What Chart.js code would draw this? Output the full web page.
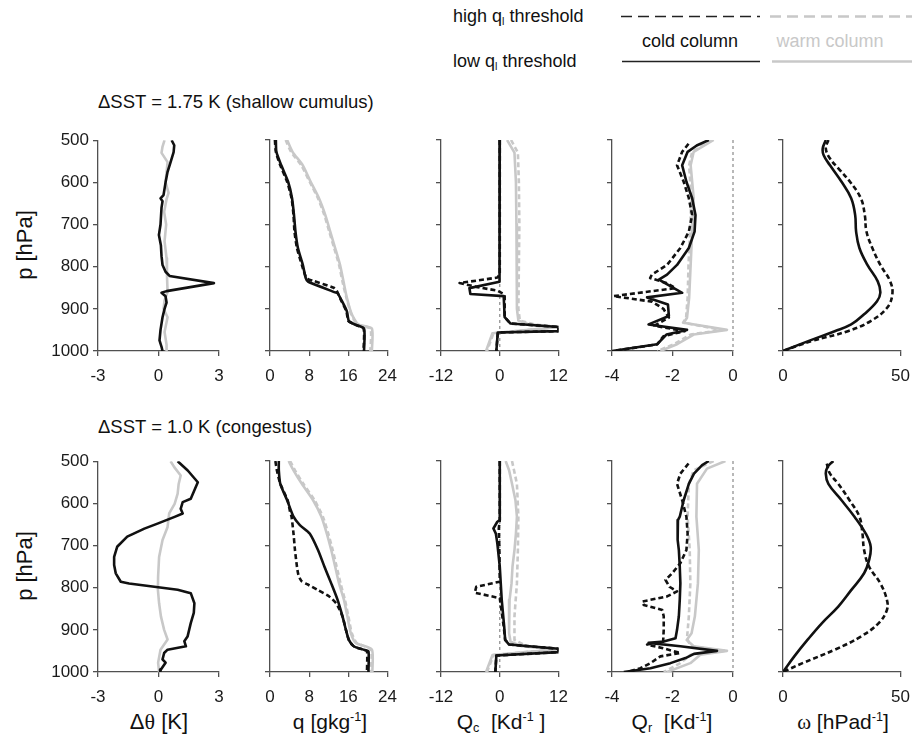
<!DOCTYPE html>
<html><head><meta charset="utf-8">
<script src="https://cdn.jsdelivr.net/npm/chart.js@4.4.1/dist/chart.umd.min.js"></script>
<style>
html,body{margin:0;padding:0;background:#fff;}
body{width:921px;height:747px;position:relative;overflow:hidden;font-family:"Liberation Sans",Arial,Helvetica,sans-serif;color:#111;}
canvas.pn{position:absolute;}
.t{position:absolute;white-space:nowrap;line-height:1;}
.t sub{font-size:60%;vertical-align:-0.25em;}
.t sup{font-size:60%;vertical-align:0.6em;}
.c{transform:translateX(-50%);}
.yl{transform:translate(-50%,-50%) rotate(-90deg);}
</style></head><body>

<svg style="position:absolute;left:0;top:0" width="921" height="75">
<line x1="621" y1="16.5" x2="760" y2="16.5" stroke="#222" stroke-width="1.4" stroke-dasharray="11,6"/>
<line x1="770" y1="16.5" x2="912" y2="16.5" stroke="#c8c8c8" stroke-width="2.5" stroke-dasharray="11,6"/>
<line x1="622" y1="61.5" x2="760" y2="61.5" stroke="#222" stroke-width="1.6"/>
<line x1="772" y1="61.5" x2="912" y2="61.5" stroke="#c8c8c8" stroke-width="2.5"/>
</svg>
<div class="t" style="left:453px;top:7px;font-size:18px">high q<sub>l</sub> threshold</div>
<div class="t" style="left:453px;top:52px;font-size:18px">low q<sub>l</sub> threshold</div>
<div class="t c" style="left:690px;top:32px;font-size:18px">cold column</div>
<div class="t c" style="left:830px;top:32px;font-size:18px;color:#c8c8c8">warm column</div>

<div class="t" style="left:98px;top:93px;font-size:18.5px">ΔSST = 1.75 K (shallow cumulus)</div>
<div class="t" style="left:98px;top:418px;font-size:18.5px">ΔSST = 1.0 K (congestus)</div>

<div class="t yl" style="left:25px;top:245px;font-size:22px">p [hPa]</div>
<div class="t yl" style="left:25px;top:566px;font-size:22px">p [hPa]</div>

<div class="t c" style="left:159px;top:711px;font-size:22px">Δ<span style="font-family:'Liberation Serif',serif">θ</span> [K]</div>
<div class="t c" style="left:330px;top:711px;font-size:21px">q [gkg<sup>-1</sup>]</div>
<div class="t c" style="left:501px;top:711px;font-size:21px">Q<sub>c</sub> &nbsp;[Kd<sup>-1</sup> ]</div>
<div class="t c" style="left:672px;top:711px;font-size:21px">Q<sub>r</sub> &nbsp;[Kd<sup>-1</sup>]</div>
<div class="t c" style="left:843px;top:711px;font-size:21px"><span style="font-family:'Liberation Serif',serif">ω</span> [hPad<sup>-1</sup>]</div>

<script>
// ---------- tick labels ----------
const pTicks = [500, 600, 700, 800, 900, 1000];
const dthTicks = [-3, 0, 3];
const qTicks = [0, 8, 16, 24];
const qcTicks = [-12, 0, 12];
const qrTicks = [-4, -2, 0];
const omTicks = [0, 50];

// ---------- data: [pressure hPa, value] ----------
// Row 1: dSST = 1.75 K (shallow cumulus)
const shDthCold = [[500,0.65],[512,0.78],[528,0.75],[552,0.6],[575,0.45],[600,0.35],[630,0.25],[638,0.1],[645,0.2],[660,0.15],[700,0.1],[725,0.02],[750,0.12],[775,0.15],[796,0.2],[812,0.35],[822,0.55],[839,2.75],[858,0.4],[862,0.15],[870,0.35],[885,0.4],[900,0.3],[920,0.2],[950,0.1],[975,0.05],[990,0.15],[1000,0.2]];
const shDthWarm = [[500,0.3],[515,0.2],[530,0.15],[552,0.45],[600,0.35],[625,0.5],[640,0.4],[670,0.28],[700,0.38],[740,0.3],[780,0.4],[820,0.42],[860,0.45],[880,0.3],[900,0.25],[920,0.45],[955,0.3],[985,0.4],[1000,0.4]];

const shQColdLow = [[500,1.2],[528,1.3],[560,2.3],[599,3.7],[638,4.5],[678,4.9],[717,5.2],[756,5.7],[796,6.7],[827,7.3],[836,7.8],[861,13.3],[863,13.8],[882,14.7],[906,15.7],[929,16.1],[937,17.3],[947,19.2],[1000,19.2]];
const shQColdHigh = [[500,1.0],[528,1.2],[560,2.1],[599,3.5],[638,4.4],[678,4.8],[717,5.0],[756,5.5],[796,6.5],[827,7.4],[831,8.0],[834,8.9],[850,13.0],[857,13.6],[882,14.6],[906,15.6],[929,16.0],[937,17.2],[947,19.1],[1000,19.1]];
const shQWarmLow = [[500,3.5],[528,4.6],[560,6.7],[599,8.3],[638,10],[678,11.3],[717,12.3],[756,13.3],[796,14.3],[835,15],[874,15.7],[913,16.7],[937,18],[947,20.8],[1000,20.8]];
const shQWarmHigh = [[500,3.2],[528,4.3],[560,6.4],[599,8.1],[638,9.8],[678,11.1],[717,12.1],[756,13.1],[796,14.1],[835,14.8],[874,15.6],[913,16.6],[937,17.8],[947,20.5],[1000,20.5]];

const shQcColdLow = [[500,0],[830,0],[836,-0.1],[851,-6.2],[865,-6],[870,0.8],[920,1.0],[935,2.2],[943,12],[953,12],[956,-0.4],[1000,-0.7]];
const shQcColdHigh = [[500,0],[819,0],[826,-0.5],[839,-8.2],[848,-4.8],[857,-0.5],[866,1.0],[920,1.0],[935,2.2],[943,12],[953,12],[956,-0.4],[1000,-0.7]];
const shQcWarmLow = [[500,1.5],[530,3.0],[600,3.3],[700,3.4],[800,3.5],[900,3.5],[928,3.8],[937,6],[943,12],[950,6],[958,-1.5],[1000,-2.8]];
const shQcWarmHigh = [[500,2.3],[530,3.7],[600,3.9],[700,4.0],[800,3.9],[900,3.8],[928,4.1],[937,7],[943,12],[950,6],[958,-1.3],[1000,-2.6]];

const shQrColdLow = [[500,-0.8],[513,-1.2],[528,-1.5],[560,-1.68],[599,-1.54],[638,-1.35],[678,-1.24],[717,-1.27],[756,-1.46],[796,-1.85],[819,-2.18],[831,-2.45],[862,-1.68],[873,-2.84],[890,-2.15],[917,-2.12],[937,-2.79],[950,-1.52],[961,-2.2],[984,-2.51],[1000,-4]];
const shQrColdHigh = [[509,-1.47],[528,-1.68],[560,-1.85],[599,-1.63],[638,-1.46],[678,-1.35],[717,-1.46],[756,-1.74],[796,-2.18],[819,-2.68],[827,-2.74],[839,-2.2],[851,-1.9],[870,-3.95],[883,-2.68],[900,-2.3],[921,-2.12],[940,-2.6],[953,-1.6],[965,-2.3],[984,-2.5],[1000,-3.95]];
const shQrWarmLow = [[500,-0.64],[528,-1.3],[560,-1.4],[638,-1.3],[717,-1.35],[796,-1.4],[874,-1.45],[921,-1.52],[933,-1.63],[950,-0.2],[961,-1.3],[984,-1.85],[1000,-2.4]];
const shQrWarmHigh = [[500,-0.7],[528,-1.35],[560,-1.45],[638,-1.38],[717,-1.42],[796,-1.47],[874,-1.5],[921,-1.55],[933,-1.65],[950,-0.35],[961,-1.4],[984,-1.95],[1000,-2.5]];

const shOmColdLow = [[500,18.2],[520,16.9],[536,17.3],[560,20],[599,24.9],[638,29],[678,30.7],[717,31.1],[756,32.5],[796,35.9],[835,40.3],[862,41.4],[882,40],[913,34.5],[937,29],[953,22],[976,11],[1000,0]];
const shOmColdHigh = [[500,19.3],[520,18.2],[544,20],[570,24],[599,28.5],[638,33.1],[678,34.8],[717,35.5],[756,38],[796,41.4],[835,45.6],[866,46.5],[898,44.2],[929,37.3],[953,27.6],[976,12.4],[1000,0]];

// Row 2: dSST = 1.0 K (congestus)
const cgDthCold = [[500,0.95],[522,1.45],[550,1.95],[569,1.78],[589,1.6],[597,1.2],[613,1.1],[624,1.2],[632,0.8],[648,-0.05],[660,-0.7],[679,-1.55],[703,-2.05],[727,-2.2],[746,-2.2],[766,-2.12],[786,-1.87],[790,-1.46],[805,0.95],[813,1.6],[837,1.78],[860,1.75],[884,1.6],[916,1.44],[927,1.28],[939,1.36],[947,0.45],[955,0.28],[970,0.2],[978,0.35],[994,0.12],[1000,0.08]];
const cgDthWarm = [[500,0.6],[514,0.78],[534,1.1],[554,1.0],[577,0.95],[601,0.8],[624,0.53],[656,0.45],[687,0.2],[727,0.03],[774,-0.02],[805,-0.03],[837,0.03],[868,0.12],[900,0.28],[923,0.45],[947,0.1],[978,-0.02],[1000,0.03]];

const cgQColdLow = [[500,1.8],[522,1.8],[554,2.1],[593,3.5],[632,4.8],[652,6.1],[672,8.1],[711,9.8],[750,11.1],[790,12.5],[829,13.8],[868,14.8],[900,15.5],[924,16.1],[939,17.1],[947,19.1],[951,20.1],[1000,20.1]];
const cgQColdHigh = [[500,1.1],[522,1.4],[554,2.1],[593,3.6],[620,4.1],[632,4.4],[672,4.8],[711,5.1],[750,5.5],[770,5.8],[784,6.4],[792,7.6],[806,9.8],[821,12.1],[837,13.5],[845,13.9],[868,14.8],[900,15.5],[924,16.1],[939,17.1],[947,19.0],[951,19.8],[1000,19.8]];
const cgQWarmLow = [[500,3.8],[522,4.8],[554,6.5],[593,8.8],[632,10.5],[672,11.6],[711,12.5],[750,13.3],[790,14.1],[829,15.1],[868,15.8],[908,16.5],[931,17.5],[947,20.8],[1000,20.9]];
const cgQWarmHigh = [[500,4.1],[522,5.1],[554,6.8],[593,9.1],[632,10.8],[672,11.9],[711,12.8],[750,13.6],[790,14.4],[829,15.3],[868,16.0],[908,16.7],[931,17.7],[947,20.6],[1000,20.6]];

const cgQcColdLow = [[500,0],[640,0],[644,-0.5],[660,-1.3],[672,-0.8],[695,-0.5],[750,0],[829,0.4],[892,0.9],[924,1.1],[935,1.9],[945,12],[953,12],[961,-0.7],[1000,-0.9]];
const cgQcColdHigh = [[500,0],[640,0],[660,-0.2],[700,-0.1],[786,0],[798,-4.8],[812,-5.1],[825,0],[892,0.8],[924,1.1],[935,2.0],[945,12],[953,12],[961,-0.7],[1000,-0.9]];
const cgQcWarmLow = [[500,1.2],[522,1.9],[554,2.5],[593,3.2],[632,3.5],[672,3.3],[711,3.0],[750,2.6],[790,2.4],[829,2.0],[868,1.9],[908,1.9],[928,2.2],[939,4.5],[947,12],[952,6],[960,-1.5],[1000,-2.8]];
const cgQcWarmHigh = [[500,2.5],[554,3.5],[632,3.8],[711,3.7],[790,3.5],[868,3.0],[924,3.0],[939,5.5],[947,12],[952,6],[960,-1.3],[1000,-2.6]];

const cgQrColdLow = [[500,-0.8],[510,-1.02],[530,-1.29],[554,-1.46],[593,-1.63],[632,-1.76],[640,-1.82],[664,-1.82],[687,-1.84],[711,-1.79],[750,-1.76],[790,-1.74],[829,-1.76],[868,-1.79],[900,-1.85],[920,-1.9],[928,-2.29],[931,-2.79],[939,-1.74],[950,-0.53],[957,-1.29],[967,-1.57],[979,-2.07],[991,-2.73],[1000,-3.61]];
const cgQrColdHigh = [[506,-1.47],[530,-1.74],[554,-1.85],[593,-1.68],[632,-1.54],[672,-1.5],[711,-1.54],[742,-1.74],[766,-2.01],[782,-2.23],[798,-2.1],[809,-1.85],[821,-2.18],[833,-3.0],[841,-2.95],[853,-2.34],[868,-2.29],[900,-2.29],[928,-2.31],[935,-2.84],[943,-2.35],[955,-1.74],[963,-2.4],[979,-2.73],[991,-3.06],[1000,-3.5]];
const cgQrWarmLow = [[500,-0.25],[518,-0.86],[554,-1.19],[632,-1.21],[711,-1.13],[790,-1.16],[868,-1.26],[908,-1.37],[924,-1.53],[939,-1.3],[950,-0.2],[959,-1.08],[979,-1.41],[1000,-2.18]];
const cgQrWarmHigh = [[500,-0.64],[522,-1.3],[554,-1.46],[632,-1.5],[711,-1.43],[790,-1.41],[868,-1.46],[920,-1.52],[939,-1.4],[950,-0.3],[959,-1.4],[979,-1.74],[1000,-2.29]];

const cgOmColdLow = [[500,21.4],[514,19],[530,18.2],[554,19.3],[593,24.9],[632,30.4],[672,35.2],[703,37.3],[735,36.6],[766,34.5],[806,29],[845,23.5],[884,16.6],[924,10.4],[963,4.8],[1000,0]];
const cgOmColdHigh = [[506,18.6],[530,20],[554,23.5],[593,28.3],[632,32.5],[672,33.8],[711,34.5],[750,36.6],[790,41.4],[829,44.2],[853,44.2],[884,40.7],[916,33.1],[947,22.1],[979,8.3],[1000,0]];

const zeroLine = [[500,0],[1000,0]];

// ---------- layout / style ----------
const FONT = '"Liberation Sans", Arial, Helvetica, sans-serif';
const AXC = '#505050';
const BLACK = '#111111';
const GRAY = '#c8c8c8';
const colLeft = [98, 270, 441, 612, 783];
const rowTop = [140, 461];
const PW = 121, PH = 211;
const padL = 70, padT = 14, padR = 16, padB = 44;

const xRanges = [[-3,3],[0,24],[-12,12],[-4,0],[0,50]];
const xTickSets = [dthTicks, qTicks, qcTicks, qrTicks, omTicks];

function line(pairs, color, dash, width, tension) {
  return {
    data: pairs.map(([p, v]) => ({x: v, y: p})),
    showLine: true, borderColor: color, backgroundColor: color,
    borderWidth: width, borderDash: dash, pointRadius: 0, pointHoverRadius: 0,
    tension: tension, fill: false, borderJoinStyle: 'round', borderCapStyle: 'butt'
  };
}
function zero() {
  const d = line(zeroLine, '#8a8a8a', [3, 3], 1.2, 0);
  d.clip = 4;
  return d;
}

// first dataset is drawn on top
const panels = [
  [ // row 1
    [line(shDthCold, BLACK, [], 2.6, 0), line(shDthWarm, GRAY, [], 2.6, 0)],
    [line(shQColdLow, BLACK, [], 2.6, 0.2), line(shQColdHigh, BLACK, [5,3], 2.6, 0.2), line(shQWarmLow, GRAY, [], 2.6, 0.2), line(shQWarmHigh, GRAY, [5,3], 2.6, 0.2)],
    [line(shQcColdLow, BLACK, [], 2.6, 0), line(shQcColdHigh, BLACK, [5,3], 2.6, 0), line(shQcWarmLow, GRAY, [], 2.6, 0), line(shQcWarmHigh, GRAY, [5,3], 2.6, 0), zero()],
    [line(shQrColdLow, BLACK, [], 2.6, 0), line(shQrColdHigh, BLACK, [5,3], 2.6, 0), line(shQrWarmLow, GRAY, [], 2.6, 0), line(shQrWarmHigh, GRAY, [5,3], 2.6, 0), zero()],
    [line(shOmColdLow, BLACK, [], 2.6, 0.4), line(shOmColdHigh, BLACK, [5,3], 2.6, 0.4)]
  ],
  [ // row 2
    [line(cgDthCold, BLACK, [], 2.6, 0), line(cgDthWarm, GRAY, [], 2.6, 0)],
    [line(cgQColdLow, BLACK, [], 2.6, 0.2), line(cgQColdHigh, BLACK, [5,3], 2.6, 0.2), line(cgQWarmLow, GRAY, [], 2.6, 0.2), line(cgQWarmHigh, GRAY, [5,3], 2.6, 0.2)],
    [line(cgQcColdLow, BLACK, [], 2.6, 0), line(cgQcColdHigh, BLACK, [5,3], 2.6, 0), line(cgQcWarmLow, GRAY, [], 2.6, 0), line(cgQcWarmHigh, GRAY, [5,3], 2.6, 0), zero()],
    [line(cgQrColdLow, BLACK, [], 2.6, 0), line(cgQrColdHigh, BLACK, [5,3], 2.6, 0), line(cgQrWarmLow, GRAY, [], 2.6, 0), line(cgQrWarmHigh, GRAY, [5,3], 2.6, 0), zero()],
    [line(cgOmColdLow, BLACK, [], 2.6, 0.4), line(cgOmColdHigh, BLACK, [5,3], 2.6, 0.4)]
  ]
];

function axisCommon() {
  return {
    grid: {display: true, drawOnChartArea: false, drawTicks: true, tickLength: 5, color: AXC, lineWidth: 1.3},
    border: {display: true, color: AXC, width: 1.3}
  };
}

panels.forEach((row, r) => {
  row.forEach((datasets, c) => {
    const cv = document.createElement('canvas');
    cv.className = 'pn';
    const W = padL + PW + padR, H = padT + PH + padB;
    cv.width = W; cv.height = H;
    cv.style.left = (colLeft[c] - padL) + 'px';
    cv.style.top = (rowTop[r] - padT) + 'px';
    cv.style.width = W + 'px'; cv.style.height = H + 'px';
    document.body.appendChild(cv);
    const xt = xTickSets[c];
    new Chart(cv.getContext('2d'), {
      type: 'scatter',
      data: {datasets: datasets},
      options: {
        responsive: false, animation: false, devicePixelRatio: 1,
        events: [],
        layout: {padding: {top: padT, right: padR, left: 0, bottom: 0}},
        plugins: {legend: {display: false}, tooltip: {enabled: false}},
        scales: {
          x: Object.assign(axisCommon(), {
            type: 'linear', position: 'bottom',
            min: xRanges[c][0], max: xRanges[c][1],
            afterBuildTicks: s => { s.ticks = xt.map(v => ({value: v})); },
            afterFit: s => { s.height = padB; },
            ticks: {display: true, autoSkip: false, maxRotation: 0, padding: 10, color: '#1a1a1a',
                    font: {family: FONT, size: 17}, callback: v => String(v)}
          }),
          y: Object.assign(axisCommon(), {
            type: 'linear', position: 'left', reverse: true, min: 500, max: 1000,
            afterBuildTicks: s => { s.ticks = pTicks.map(v => ({value: v})); },
            afterFit: s => { s.width = padL; },
            ticks: {display: c === 0, autoSkip: false, padding: 4, color: '#1a1a1a',
                    font: {family: FONT, size: 17}, callback: v => String(v)}
          })
        }
      }
    });
  });
});
</script>
</body></html>
